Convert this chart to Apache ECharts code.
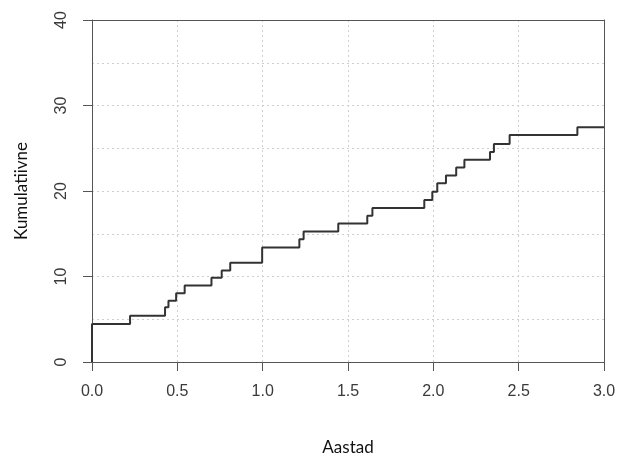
<!DOCTYPE html>
<html>
<head>
<meta charset="utf-8">
<script src="https://cdn.jsdelivr.net/npm/echarts@6/dist/echarts.min.js"></script>
<style>html,body{margin:0;padding:0;background:#fff}#c{width:618px;height:458px}</style>
</head>
<body>
<div id="c"></div>
<script>
var years = [0, 0, 0.223, 0.428, 0.448, 0.493, 0.543, 0.70, 0.76, 0.81, 0.997, 1.215, 1.24, 1.443, 1.613, 1.643, 1.947, 1.994, 2.023, 2.074, 2.134, 2.182, 2.332, 2.355, 2.447, 2.844, 3.0];
var cumulative = [0, 4.45, 5.4, 6.4, 7.15, 8.05, 8.95, 9.85, 10.7, 11.6, 13.4, 14.35, 15.25, 16.2, 17.1, 18.0, 18.95, 19.9, 20.9, 21.8, 22.75, 23.65, 24.55, 25.5, 26.55, 27.45, 27.45];
var xTicks = [0, 0.5, 1.0, 1.5, 2.0, 2.5, 3.0];
var yTicks = [0, 10, 20, 30, 40];
var xTitle = 'Aastad';
var yTitle = 'Kumulatiivne';

var pts = years.map(function (t, i) { return [t, cumulative[i]]; });
var chart = echarts.init(document.getElementById('c'), null, {renderer: 'canvas'});
var gridLine = {show: true, lineStyle: {color: '#cfcfcf', type: [2, 3], width: 1}};
var xMin = xTicks[0], xMax = xTicks[xTicks.length - 1];
var yMin = yTicks[0], yMax = yTicks[yTicks.length - 1];
var frameLine = {show: true, onZero: false, lineStyle: {color: '#555', width: 1}};
chart.setOption({
  animation: false,
  backgroundColor: '#fff',
  grid: {left: 92, right: 14, top: 20, bottom: 96, containLabel: false, outerBoundsMode: 'none'},
  xAxis: [{
    type: 'value', min: xMin, max: xMax, interval: 0.5,
    name: xTitle, nameLocation: 'middle', nameGap: 77,
    nameTextStyle: {fontFamily: 'Lato', fontSize: 17, color: '#111'},
    axisLine: frameLine,
    axisTick: {show: true, length: 9, inside: false, lineStyle: {color: '#555'}},
    axisLabel: {margin: 22, fontSize: 16, fontFamily: 'Liberation Sans', color: '#3a3a3a',
      formatter: function (v) { return v.toFixed(1); }},
    splitLine: gridLine
  }, {
    type: 'value', position: 'top', min: xMin, max: xMax, interval: 0.5,
    axisLine: frameLine, axisTick: {show: false}, axisLabel: {show: false}, splitLine: {show: false}
  }],
  yAxis: [{
    type: 'value', min: yMin, max: yMax, interval: 10,
    name: yTitle, nameLocation: 'middle', nameGap: 62, nameRotate: 90,
    nameTextStyle: {fontFamily: 'Lato', fontSize: 17, color: '#111'},
    axisLine: frameLine,
    axisTick: {show: true, length: 9, lineStyle: {color: '#555'}},
    axisLabel: {margin: 22, rotate: 90, fontSize: 16, fontFamily: 'Liberation Sans', color: '#3a3a3a'},
    splitLine: gridLine,
    minorTick: {show: false, splitNumber: 2},
    minorSplitLine: gridLine
  }, {
    type: 'value', position: 'right', min: yMin, max: yMax, interval: 10,
    axisLine: frameLine, axisTick: {show: false}, axisLabel: {show: false}, splitLine: {show: false}
  }],
  series: [{
    type: 'line', step: 'end', data: pts, symbol: 'none', clip: true,
    xAxisIndex: 0, yAxisIndex: 0,
    lineStyle: {color: '#333', width: 2}
  }]
});
</script>
</body>
</html>
